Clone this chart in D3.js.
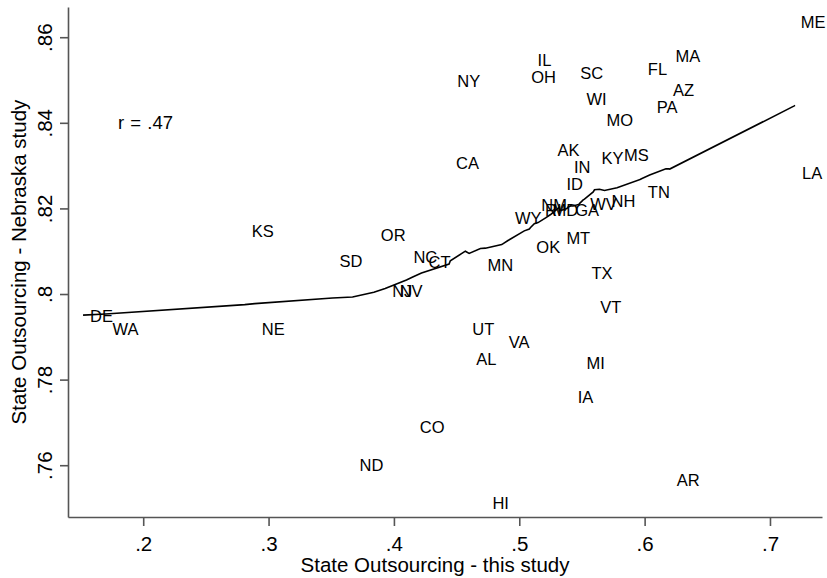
<!DOCTYPE html>
<html>
<head>
<meta charset="utf-8">
<script src="https://cdn.jsdelivr.net/npm/d3@7"></script>
<style>
  body { margin: 0; background: #fff; }
  text { font-family: "Liberation Sans", Arial, Helvetica, sans-serif; fill: #000; }
</style>
</head>
<body>
<script>
"use strict";

// state labels and values
let states = ["ME", "LA", "MA", "FL", "AZ", "PA", "SC", "WI", "MO", "IL",
    "OH", "NY", "AK", "IN", "KY", "MS", "CA", "ID", "TN", "NH",
    "WV", "GA", "MD", "NM", "RI", "WY", "KS", "OR", "SD", "NC",
    "CT", "MN", "OK", "MT", "TX", "VT", "NJ", "NV", "DE", "WA",
    "NE", "UT", "VA", "AL", "MI", "IA", "CO", "ND", "AR", "HI"];

// State Outsourcing - this study
let thisStudy = [0.719, 0.720, 0.619, 0.597, 0.617, 0.604, 0.543, 0.548, 0.564, 0.509,
    0.504, 0.445, 0.525, 0.538, 0.560, 0.578, 0.444, 0.532, 0.597, 0.568,
    0.551, 0.539, 0.521, 0.512, 0.515, 0.491, 0.281, 0.384, 0.351, 0.410,
    0.422, 0.469, 0.508, 0.532, 0.552, 0.559, 0.393, 0.399, 0.152, 0.170,
    0.289, 0.457, 0.486, 0.460, 0.548, 0.541, 0.415, 0.367, 0.620, 0.473];

// State Outsourcing - Nebraska study
let nebraska = [0.8635, 0.8283, 0.8556, 0.8526, 0.8476, 0.8437, 0.8516, 0.8455, 0.8406, 0.8547,
    0.8507, 0.8497, 0.8336, 0.8297, 0.8318, 0.8325, 0.8306, 0.8257, 0.8238, 0.8217,
    0.8210, 0.8196, 0.8196, 0.8208, 0.8196, 0.8177, 0.8147, 0.8138, 0.8077, 0.8086,
    0.8075, 0.8068, 0.8110, 0.8131, 0.8049, 0.7970, 0.8007, 0.8007, 0.7949, 0.7918,
    0.7918, 0.7918, 0.7888, 0.7848, 0.7839, 0.7759, 0.7689, 0.7600, 0.7565, 0.7512];

let xTicks = [0.2, 0.3, 0.4, 0.5, 0.6, 0.7];
let yTicks = [0.76, 0.78, 0.8, 0.82, 0.84, 0.86];
let corrText = "r = .47";

let width = 827, height = 578;
let plot = {left: 68, right: 822, top: 7, bottom: 517};

let svg = d3.select("body").append("svg")
    .attr("width", width)
    .attr("height", height);

let x = d3.scaleLinear()
    .domain([0.14, 0.7415])
    .range([plot.left, plot.right]);

let y = d3.scaleLinear()
    .domain([0.7479, 0.86706])
    .range([plot.bottom, plot.top]);

let fmt = function (d) {
    return d3.format(".2~f")(d).replace(/^0/, "");
};

// axes
let xAxis = svg.append("g")
    .attr("transform", "translate(0," + plot.bottom + ")")
    .call(d3.axisBottom(x).tickValues(xTicks).tickFormat(fmt).tickSize(9).tickPadding(10).tickSizeOuter(0));

let yAxis = svg.append("g")
    .attr("transform", "translate(" + plot.left + ",0)")
    .call(d3.axisLeft(y).tickValues(yTicks).tickFormat(fmt).tickSize(8).tickPadding(6).tickSizeOuter(0));

[xAxis, yAxis].forEach(function (g) {
    g.select(".domain").attr("stroke", "#555").attr("stroke-width", 1.6);
    g.selectAll(".tick line").attr("stroke", "#555").attr("stroke-width", 1.6);
    g.selectAll(".tick text")
        .style("font-family", "'Liberation Sans', Arial, sans-serif")
        .style("font-size", "20.5px")
        .attr("fill", "#000");
});

yAxis.selectAll(".tick text")
    .attr("transform", "rotate(-90)")
    .attr("x", 0)
    .attr("y", -16)
    .attr("dy", 0)
    .attr("text-anchor", "middle");

// axis titles
svg.append("text")
    .attr("x", 435)
    .attr("y", 572)
    .attr("text-anchor", "middle")
    .style("font-size", "20.5px")
    .text("State Outsourcing - this study");

svg.append("text")
    .attr("transform", "translate(26," + ((plot.top + plot.bottom) / 2) + ") rotate(-90)")
    .attr("text-anchor", "middle")
    .style("font-size", "20.5px")
    .text("State Outsourcing - Nebraska study");

// Stata style lowess: bwidth .8, tricube weights, local linear fit
function lowess(xs, ys, bw) {
    let idx = d3.range(xs.length).sort(function (a, b) { return xs[a] - xs[b]; });
    let sx = idx.map(function (i) { return xs[i]; }),
        sy = idx.map(function (i) { return ys[i]; });
    let n = sx.length,
        k = Math.floor((n * bw - 0.5) / 2);
    return sx.map(function (xi, i) {
        let lo = Math.max(0, i - k), hi = Math.min(n - 1, i + k);
        let delta = 1.0001 * Math.max(sx[hi] - xi, xi - sx[lo]);
        let sw = 0, swx = 0, swy = 0, swxx = 0, swxy = 0;
        for (let j = lo; j <= hi; j++) {
            let u = Math.abs(sx[j] - xi) / delta;
            let w = Math.pow(1 - u * u * u, 3);
            sw += w; swx += w * sx[j]; swy += w * sy[j];
            swxx += w * sx[j] * sx[j]; swxy += w * sx[j] * sy[j];
        }
        let mx = swx / sw, my = swy / sw;
        let vx = swxx / sw - mx * mx;
        let b = vx > 0 ? (swxy / sw - mx * my) / vx : 0;
        return [xi, my + b * (xi - mx)];
    });
}

let smooth = lowess(thisStudy, nebraska, 0.8);

svg.append("path")
    .datum(smooth)
    .attr("fill", "none")
    .attr("stroke", "#000")
    .attr("stroke-width", 1.6)
    .attr("d", d3.line()
        .x(function (d) { return x(d[0]); })
        .y(function (d) { return y(d[1]); }));

// state labels, placed to the right of each (invisible) point
svg.append("g")
    .selectAll("text")
    .data(states)
    .enter().append("text")
    .attr("x", function (d, i) { return x(thisStudy[i]) + 7; })
    .attr("y", function (d, i) { return y(nebraska[i]); })
    .attr("dy", "0.36em")
    .style("font-size", "16.5px")
    .text(function (d) { return d; });

svg.append("text")
    .attr("x", 118)
    .attr("y", 122)
    .attr("dy", "0.36em")
    .style("font-size", "18.5px")
    .style("word-spacing", "1px")
    .text(corrText);
</script>
</body>
</html>
